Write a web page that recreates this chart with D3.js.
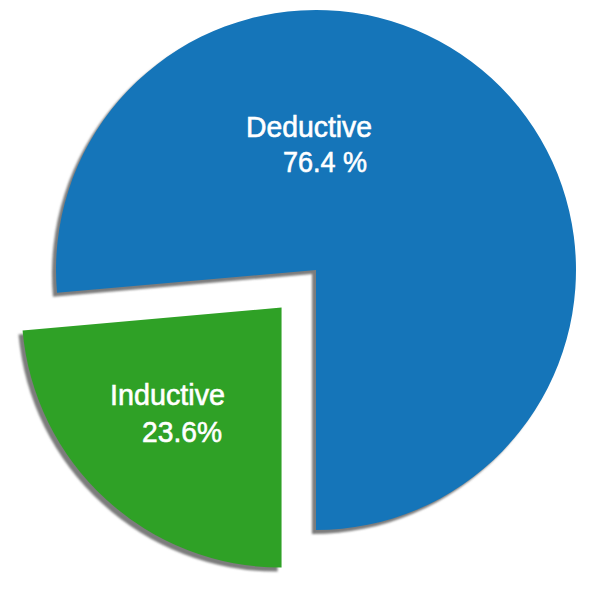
<!DOCTYPE html>
<html><head><meta charset="utf-8">
<script src="https://cdn.jsdelivr.net/npm/d3@7"></script>
<style>html,body{margin:0;padding:0;background:#fff;}</style>
</head><body>
<svg id="c" width="591" height="591"></svg>
<script>
const categories = ["Inductive", "Deductive"];
const values = [23.6, 76.4];
const valueLabels = ["23.6%", "76.4 %"];
const colors = ["#2fa126", "#1575b9"];

const svg = d3.select("#c");
const cx = 316, cy = 270, R = 260, explode = 51;

const defs = svg.append("defs");
defs.append("filter").attr("id","blur").append("feGaussianBlur").attr("stdDeviation",1.2);

const pie = d3.pie().sort(null).startAngle(Math.PI).endAngle(3*Math.PI);
const arcs = pie(values);
const arc = d3.arc().innerRadius(0).outerRadius(R);

const offset = (d, i) => {
  if (categories[i] !== "Inductive") return [0,0];
  const a = (d.startAngle + d.endAngle)/2;
  return [Math.sin(a)*explode, -Math.cos(a)*explode];
};

const g = svg.append("g").attr("transform", `translate(${cx},${cy})`);

// shadows
g.selectAll("path.shadow").data(arcs).join("path")
  .attr("class","shadow")
  .attr("d", arc)
  .attr("fill", "#7c7c7c")
  .attr("filter","url(#blur)")
  .attr("transform", (d,i)=>{const o=offset(d,i); return `translate(${o[0]-4},${o[1]+4})`;});

g.selectAll("path.slice").data(arcs).join("path")
  .attr("class","slice")
  .attr("d", arc)
  .attr("fill", (d,i)=>colors[i])
  .attr("transform", (d,i)=>{const o=offset(d,i); return `translate(${o[0]},${o[1]})`;});

// labels (positions relative to center)
const labelPos = [
  {x1: 110-cx, y1: 405-cy, x2: 142-cx, y2: 442-cy},
  {x1: 246-cx, y1: 137-cy, x2: 283-cx, y2: 172-cy}
];
arcs.forEach((d,i)=>{
  const p = labelPos[i];
  g.append("text").attr("x",p.x1).attr("y",p.y1)
    .attr("fill","#fff").attr("stroke","#fff").attr("stroke-width",0.6)
    .attr("font-family","Liberation Sans, Arial, sans-serif")
    .attr("font-size",29).attr("textLength", i===0?115:126).attr("lengthAdjust","spacingAndGlyphs")
    .text(categories[i]);
  g.append("text").attr("x",p.x2).attr("y",p.y2)
    .attr("fill","#fff").attr("stroke","#fff").attr("stroke-width",0.6)
    .attr("font-family","Liberation Sans, Arial, sans-serif")
    .attr("font-size",29).attr("textLength", i===0?80:84).attr("lengthAdjust","spacingAndGlyphs")
    .text(valueLabels[i]);
});
</script>
</body></html>
